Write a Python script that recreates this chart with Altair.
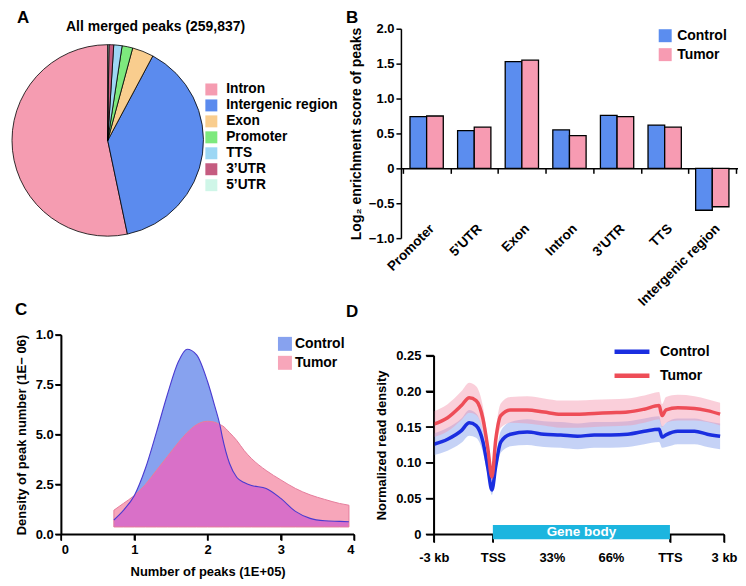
import altair as alt
import pandas as pd
import numpy as np

FONT = "Liberation Sans"
groups = ["Control", "Tumor"]

# ---------------- Panel A : pie of peak annotation ----------------
pie_cats = ["Intron", "Intergenic region", "Exon", "Promoter", "TTS", "3’UTR", "5’UTR"]
pie_pct = [53.3, 38.9, 3.6, 1.8, 1.4, 0.8, 0.2]
pie_rank = [6, 5, 4, 3, 2, 1, 0]          # clockwise order from 12 o'clock
pie_colors = ["#F59CB1", "#5B8BEE", "#F9CD8E", "#7DE97D", "#9DD7F4", "#C55C80", "#CFF6E8"]
pie_title = "All merged peaks (259,837)"

# ---------------- Panel B : enrichment bars ----------------
bar_cats = ["Promoter", "5’UTR", "Exon", "Intron", "3’UTR", "TTS", "Intergenic region"]
control_enrich = [0.74, 0.54, 1.53, 0.55, 0.76, 0.62, -0.60]
tumor_enrich = [0.75, 0.59, 1.55, 0.47, 0.74, 0.59, -0.55]
b_ticks = [-1.0, -0.5, 0.0, 0.5, 1.0, 1.5, 2.0]

# ---------------- Panel C : density of peak number ----------------
c_x = [0.72, 0.85, 1.0, 1.15, 1.3, 1.45, 1.6, 1.72, 1.85, 2.0, 2.1, 2.17, 2.2, 2.3,
       2.4, 2.5, 2.6, 2.8, 3.0, 3.2, 3.4, 3.6, 3.8, 3.93]
c_control = [0.72, 1.2, 1.95, 3.3, 5.1, 7.0, 8.65, 9.28, 9.0, 7.65, 6.4, 5.45, 4.9, 3.55,
             2.85, 2.6, 2.45, 2.3, 1.8, 1.15, 0.8, 0.68, 0.65, 0.63]
c_tumor = [1.21, 1.55, 1.95, 2.5, 3.2, 3.9, 4.6, 5.1, 5.5, 5.67, 5.62, 5.5, 5.45, 5.1,
           4.7, 4.2, 3.8, 3.2, 2.73, 2.3, 1.98, 1.75, 1.55, 1.46]
density_floor = 0.37
c_xticks = [0, 1, 2, 3, 4]
c_yticks = [0, 2.5, 5, 7.5, 10]

# ---------------- Panel D : read density profile ----------------
d_x = [0, 14, 28, 36, 43, 50, 55, 59, 63, 68, 78, 95, 112, 129, 146, 163, 180, 197,
       214, 229, 232, 236, 248, 265, 278, 291]
d_control = [0.126, 0.133, 0.145, 0.156, 0.152, 0.129, 0.092, 0.062, 0.096, 0.129, 0.140,
             0.143, 0.140, 0.139, 0.137, 0.139, 0.139, 0.140, 0.144, 0.147, 0.136, 0.139,
             0.144, 0.144, 0.140, 0.137]
d_tumor = [0.154, 0.163, 0.180, 0.191, 0.187, 0.161, 0.119, 0.080, 0.133, 0.166, 0.174,
           0.174, 0.171, 0.168, 0.168, 0.169, 0.170, 0.171, 0.175, 0.180, 0.166, 0.174,
           0.177, 0.176, 0.173, 0.168]
d_control_err = [0.015, 0.016, 0.017, 0.018, 0.017, 0.015, 0.011, 0.007, 0.011, 0.015, 0.017,
                 0.018, 0.018, 0.018, 0.018, 0.018, 0.018, 0.018, 0.018, 0.018, 0.015, 0.017,
                 0.018, 0.018, 0.018, 0.018]
d_tumor_err = [0.018, 0.019, 0.020, 0.021, 0.020, 0.017, 0.012, 0.008, 0.013, 0.017, 0.018,
               0.019, 0.019, 0.019, 0.019, 0.019, 0.019, 0.019, 0.019, 0.019, 0.016, 0.018,
               0.018, 0.017, 0.016, 0.016]
d_tick_pos = [0, 60, 120, 180, 240, 295]
d_tick_lab = ["-3 kb", "TSS", "33%", "66%", "TTS", "3 kb"]
d_tick_marks = [0, 60, 240, 295]
d_yticks = [0, 0.05, 0.10, 0.15, 0.20, 0.25]
gene_body = {"start": 60, "end": 240, "label": "Gene body", "lo": -0.0069, "hi": 0.0131}

PANEL_H = 200
LW = 1.5  # axis line width


def label_text(txt, dx, dy, size=17, align="left", baseline="top"):
    return alt.Chart(pd.DataFrame({"t": [txt]})).mark_text(
        align=align, baseline=baseline, fontSize=size, fontWeight="bold", color="black"
    ).encode(text="t:N", x=alt.value(dx), y=alt.value(dy))


# ---------- A ----------
pie_df = pd.DataFrame({"region": pie_cats, "pct": pie_pct, "rank": pie_rank})
pie = alt.Chart(pie_df).mark_arc(outerRadius=96, stroke="black", strokeWidth=0.8).encode(
    theta=alt.Theta("pct:Q", stack=True),
    order=alt.Order("rank:Q", sort="ascending"),
    color=alt.Color(
        "region:N", sort=pie_cats,
        scale=alt.Scale(domain=pie_cats, range=pie_colors),
        legend=alt.Legend(title=None, orient="none", legendX=193, legendY=54,
                          symbolType="square", symbolSize=144, symbolStrokeWidth=0,
                          symbolOpacity=1, labelFontSize=13.8, labelOffset=8, rowPadding=1),
    ),
)
A = alt.layer(
    pie,
    label_text("A", 5, -19),
    label_text(pie_title, 144, 2.5, size=14, align="center", baseline="alphabetic"),
).properties(width=192, height=224)

# ---------- B ----------
bar_df = pd.DataFrame({
    "region": bar_cats * 2,
    "group": ["Control"] * len(bar_cats) + ["Tumor"] * len(bar_cats),
    "score": control_enrich + tumor_enrich,
})
bars = alt.Chart(bar_df).mark_bar(stroke="black", strokeWidth=1.3).encode(
    x=alt.X("region:N", sort=bar_cats,
            scale=alt.Scale(paddingInner=0, paddingOuter=0.04),
            axis=alt.Axis(title=None, offset=-70, tickBand="extent", tickSize=5,
                          labelAngle=-45, labelAlign="right", labelBaseline="middle",
                          labelPadding=53, labelOffset=5, labelOverlap=False,
                          labelFlush=False, labelFontSize=13.5)),
    xOffset=alt.XOffset("group:N", sort=groups,
                        scale=alt.Scale(paddingInner=0, paddingOuter=0.43)),
    y=alt.Y("score:Q", scale=alt.Scale(domain=[-1, 2], nice=False, zero=False),
            axis=alt.Axis(values=b_ticks, tickSize=5, labelPadding=2, labelOverlap=False,
                          labelExpr="datum.value == 0 ? '0' : format(datum.value, '.1f')",
                          title="Log₂ enrichment score of peaks", titlePadding=5,
                          titleFontSize=14)),
    color=alt.Color("group:N", sort=groups,
                    scale=alt.Scale(domain=groups, range=["#5B8DEF", "#F79BB2"]),
                    legend=alt.Legend(title=None, orient="none", legendX=258, legendY=0,
                                      symbolType="square", symbolSize=169,
                                      symbolStrokeWidth=0, symbolOpacity=1,
                                      labelFontSize=14, labelOffset=5, rowPadding=5)),
)
B = alt.layer(bars, label_text("B", -55, -19)).properties(width=338, height=210)

# ---------- C ----------
C_SHIFT = 49.3
c_long = pd.DataFrame({
    "x": c_x * 2,
    "group": ["Control"] * len(c_x) + ["Tumor"] * len(c_x),
    "density": c_control + c_tumor,
})
c_long["floor"] = density_floor
c_wide = pd.DataFrame({"x": c_x, "control": c_control, "tumor": c_tumor,
                       "overlap": np.minimum(c_control, c_tumor)})
c_wide["floor"] = density_floor

xC_axis = alt.Axis(values=c_xticks, format="d", tickSize=6, labelPadding=3,
                   labelOverlap=False, domain=True, ticks=True,
                   title="Number of peaks (1E+05)", titlePadding=9)
yC_axis = alt.Axis(values=c_yticks, offset=-C_SHIFT, tickSize=6, labelPadding=2,
                   labelOverlap=False, domain=True, ticks=True,
                   labelExpr="datum.value == 10 ? '1.0' : format(datum.value, '.1f')",
                   title="Density of peak number (1E− 06)", titlePadding=7)
xC_scale = alt.Scale(domain=[c_xticks[0], c_xticks[-1]], range=[C_SHIFT, 343], nice=False)
yC_scale = alt.Scale(domain=[c_yticks[0], c_yticks[-1]], nice=False)


def xC(field, axis=None):
    return alt.X(f"{field}:Q", scale=xC_scale, axis=axis)


def yC(field, axis=None):
    return alt.Y(f"{field}:Q", stack=None, scale=yC_scale, axis=axis)


c_areas = alt.Chart(c_long).mark_area(interpolate="monotone").encode(
    x=xC("x", xC_axis), y=yC("density", yC_axis), y2="floor:Q",
    color=alt.Color("group:N", sort=groups,
                    scale=alt.Scale(domain=groups, range=["#87A2EF", "#F7A6BA"]),
                    legend=alt.Legend(title=None, orient="none", legendX=266.7, legendY=2,
                                      symbolType="square", symbolSize=196,
                                      symbolStrokeWidth=0, symbolOpacity=1,
                                      labelFontSize=14, labelOffset=3, rowPadding=5)),
)
c_overlap = alt.Chart(c_wide).mark_area(interpolate="monotone", color="#D970C8").encode(
    x=xC("x"), y=yC("overlap"), y2="floor:Q")
c_tumor_edge = alt.Chart(c_wide).mark_area(
    interpolate="monotone", fillOpacity=0, stroke="#E57C9C", strokeWidth=1
).encode(x=xC("x"), y=yC("tumor"), y2="floor:Q")
c_control_edge = alt.Chart(c_wide).mark_line(
    interpolate="monotone", color="#4A3AD0", strokeWidth=1.1
).encode(x=xC("x"), y=yC("control"))

# axis lines and tick marks as thin filled shapes, placed through the panel's scales
c_frame = pd.DataFrame({"x0": [c_xticks[0]], "x1": [c_xticks[-1]],
                        "y0": [c_yticks[0]], "y1": [c_yticks[-1]]})
c_xdom = alt.Chart(c_frame).mark_rect(color="black").encode(
    x=xC("x0"), x2="x1:Q",
    y=alt.value(PANEL_H - LW / 2), y2=alt.value(PANEL_H + LW / 2))
c_ydom = alt.Chart(c_frame).mark_rect(color="black").encode(
    y=yC("y0"), y2="y1:Q",
    x=alt.value(C_SHIFT - LW / 2), x2=alt.value(C_SHIFT + LW / 2))
c_xtick = alt.Chart(pd.DataFrame({"v": c_xticks})).mark_tick(
    color="black", orient="vertical", thickness=LW, size=6, opacity=1
).encode(x=xC("v"), y=alt.value(PANEL_H + 3))
c_ytick = alt.Chart(pd.DataFrame({"v": c_yticks})).mark_tick(
    color="black", orient="horizontal", thickness=LW, size=6, opacity=1
).encode(y=yC("v"), x=alt.value(C_SHIFT - 3))

C = alt.layer(c_areas, c_overlap, c_tumor_edge, c_control_edge,
              c_xdom, c_ydom, c_xtick, c_ytick,
              label_text("C", 3, -33)).resolve_axis(
    x="independent", y="independent").properties(width=343, height=PANEL_H)

# ---------- D ----------
d_long = pd.DataFrame({
    "x": d_x * 2,
    "group": ["Control"] * len(d_x) + ["Tumor"] * len(d_x),
    "mean": d_control + d_tumor,
    "err": d_control_err + d_tumor_err,
})
d_long["band"] = d_long["group"] + " band"
d_long["lo"] = d_long["mean"] - d_long["err"]
d_long["hi"] = d_long["mean"] + d_long["err"]

D_SHIFT = 33
lab_map = "{" + ",".join(f"'{p}':'{l}'" for p, l in zip(d_tick_pos, d_tick_lab)) + "}"
xD_scale = alt.Scale(domain=[d_tick_pos[0], d_tick_pos[-1]],
                     range=[D_SHIFT, D_SHIFT + 291], nice=False)
xD_axis = alt.Axis(title=None, values=d_tick_pos, labelExpr=f"{lab_map}[datum.value]",
                   tickSize=8, labelPadding=9, labelFlush=False, labelOverlap=False,
                   domain=True, ticks=True, zindex=0,
                   tickOpacity={"condition": {"test": "datum.value == 120 || datum.value == 180",
                                              "value": 0}, "value": 1})
yD_scale = alt.Scale(domain=[d_yticks[0], d_yticks[-1]], range=[PANEL_H, 20.7], nice=False)
yD_axis = alt.Axis(values=d_yticks, tickSize=8, labelPadding=5, offset=-D_SHIFT,
                   labelOverlap=False, domain=True, ticks=True,
                   labelExpr="datum.value == 0 ? '0' : format(datum.value, '.2f')",
                   title="Normalized read density", titlePadding=7)


def xD(field, axis=None):
    return alt.X(f"{field}:Q", scale=xD_scale, axis=axis)


def yD(field, axis=None):
    return alt.Y(f"{field}:Q", scale=yD_scale, axis=axis)


d_bands = alt.Chart(d_long).mark_area(interpolate="monotone", opacity=0.45).encode(
    x=xD("x", xD_axis), y=yD("lo", yD_axis), y2="hi:Q",
    fill=alt.Fill("band:N", scale=alt.Scale(domain=["Control band", "Tumor band"],
                                            range=["#7E9BEA", "#F594AC"]), legend=None),
)
d_lines = alt.Chart(d_long).mark_line(interpolate="monotone", strokeWidth=3.5).encode(
    x=xD("x"), y=yD("mean"),
    stroke=alt.Stroke("group:N", sort=groups,
                      scale=alt.Scale(domain=groups, range=["#1A2EE0", "#EE4D57"]),
                      legend=alt.Legend(title=None, orient="none", legendX=216.7, legendY=2,
                                        symbolType="M-1.4,0H1.4", symbolSize=625,
                                        symbolStrokeWidth=4.5, labelFontSize=14,
                                        labelOffset=13, rowPadding=0)),
)
d_frame = pd.DataFrame({"x0": [d_tick_pos[0]], "x1": [d_tick_pos[-1]],
                        "y0": [d_yticks[0]], "y1": [d_yticks[-1]]})
d_xdom = alt.Chart(d_frame).mark_rect(color="black").encode(
    x=xD("x0"), x2="x1:Q",
    y=alt.value(PANEL_H - LW / 2), y2=alt.value(PANEL_H + LW / 2))
d_ydom = alt.Chart(d_frame).mark_rect(color="black").encode(
    y=yD("y0"), y2="y1:Q",
    x=alt.value(D_SHIFT - LW / 2), x2=alt.value(D_SHIFT + LW / 2))
d_xtick = alt.Chart(pd.DataFrame({"v": d_tick_marks})).mark_tick(
    color="black", orient="vertical", thickness=LW, size=8, opacity=1
).encode(x=xD("v"), y=alt.value(PANEL_H + 4))
d_ytick = alt.Chart(pd.DataFrame({"v": d_yticks})).mark_tick(
    color="black", orient="horizontal", thickness=LW, size=8, opacity=1
).encode(y=yD("v"), x=alt.value(D_SHIFT - 4))

gb_df = pd.DataFrame([gene_body])
gb_df["mid_y"] = (gb_df["lo"] + gb_df["hi"]) / 2
d_gene = alt.Chart(gb_df).mark_rect(color="#1CB5DF").encode(
    x=xD("start"), x2="end:Q", y=yD("lo"), y2="hi:Q")
d_gene_text = alt.Chart(gb_df).transform_calculate(mid="(datum.start + datum.end) / 2").mark_text(
    color="white", fontSize=13.5, fontWeight="bold", baseline="middle"
).encode(x=xD("mid"), y=yD("mid_y"), text="label:N")
D = alt.layer(d_bands, d_lines, d_xdom, d_ydom, d_xtick, d_ytick, d_gene, d_gene_text,
              label_text("D", -55, -31)).resolve_axis(
    x="independent", y="independent").properties(width=D_SHIFT + 291, height=PANEL_H)

chart = alt.concat(
    A, B, C, D, columns=2, spacing={"row": 83, "column": 47}, bounds="flush", align="each"
).resolve_scale(
    color="independent", fill="independent", stroke="independent",
    x="independent", y="independent"
).properties(
    padding={"left": 2, "top": 0, "right": 0, "bottom": 0}
).configure(font=FONT).configure_view(stroke=None).configure_axis(
    labelColor="black", titleColor="black", domainColor="black", tickColor="black",
    domainWidth=1.5, tickWidth=1.5, labelFontWeight="bold", titleFontWeight="bold",
    labelFontSize=13, titleFontSize=13, grid=False
).configure_legend(labelColor="black", labelFontWeight="bold", padding=0)

chart.save("out.html", embed_options={"renderer": "svg", "actions": False})
